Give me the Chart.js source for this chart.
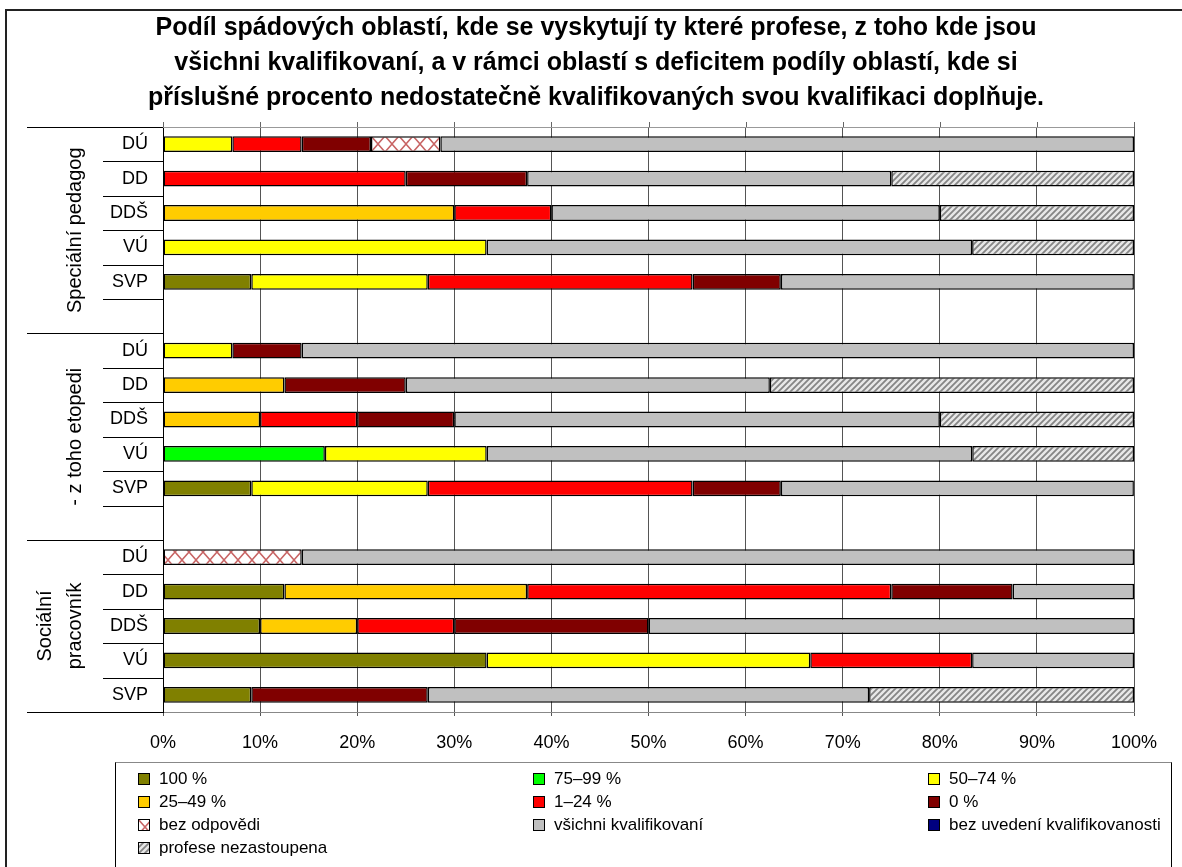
<!DOCTYPE html>
<html lang="cs">
<head>
<meta charset="UTF-8">
<title>Podíl spádových oblastí</title>
<script src="https://cdn.jsdelivr.net/npm/chart.js@4.4.0/dist/chart.umd.min.js"></script>
<style>
  body { margin: 0; width: 1182px; height: 867px; overflow: hidden; background: #fff; position: relative; font-family: "Liberation Sans", Arial, sans-serif; }
  #c { position: absolute; left: 0; top: 0; }
  .frame { position: absolute; left: 5px; top: 9px; width: 1300px; height: 1000px; border: 2px solid #222; pointer-events: none; }
  #legend { position: absolute; left: 115px; top: 762px; width: 1055px; height: 200px; border: 1px solid #000; border-top-color: #888; }
  #legend .item { position: absolute; font-size: 17px; color: #000; white-space: nowrap; line-height: 20px; }
  #legend canvas { position: absolute; left: 0; top: 4px; }
  #legend span { position: absolute; left: 21px; top: 0; }
</style>
</head>
<body>
<canvas id="c" width="1182" height="867"></canvas>
<div class="frame"></div>
<div id="legend"></div>
<script>
const titleLines = [
  'Podíl spádových oblastí, kde se vyskytují ty které profese, z toho kde jsou',
  'všichni kvalifikovaní, a v rámci oblastí s deficitem podíly oblastí, kde si',
  'příslušné procento nedostatečně kvalifikovaných svou kvalifikaci doplňuje.'
];

// rows top to bottom, '' = spacer row between groups
const rows = ['DÚ', 'DD', 'DDŠ', 'VÚ', 'SVP', '',
              'DÚ', 'DD', 'DDŠ', 'VÚ', 'SVP', '',
              'DÚ', 'DD', 'DDŠ', 'VÚ', 'SVP'];
const groups = [['Speciální pedagog'], ['- z toho etopedi'], ['Sociální', 'pracovník']];
const groupStarts = [0, 6, 12, 17];

const seriesNames = ['100 %', '75–99 %', '50–74 %', '25–49 %', '1–24 %', '0 %',
                     'bez odpovědi', 'všichni kvalifikovaní', 'bez uvedení kvalifikovanosti', 'profese nezastoupena'];

const s100      = [0, 0, 0, 0, 9.09, 0,   0, 0, 0, 0, 9.09, 0,       0, 12.5, 10, 33.33, 9.09];
const s75       = [0, 0, 0, 0, 0, 0,      0, 0, 0, 16.67, 0, 0,      0, 0, 0, 0, 0];
const s50       = [7.14, 0, 0, 33.33, 18.18, 0,  7.14, 0, 0, 16.67, 18.18, 0,  0, 0, 0, 33.33, 0];
const s25       = [0, 0, 30, 0, 0, 0,     0, 12.5, 10, 0, 0, 0,      0, 25, 10, 0, 0];
const s1        = [7.14, 25, 10, 0, 27.27, 0,  0, 0, 10, 0, 27.27, 0,  0, 37.5, 10, 16.67, 0];
const s0        = [7.14, 12.5, 0, 0, 9.09, 0,  7.14, 12.5, 10, 0, 9.09, 0,  0, 12.5, 20, 0, 18.18];
const sNoAnswer = [7.14, 0, 0, 0, 0, 0,   0, 0, 0, 0, 0, 0,          14.29, 0, 0, 0, 0];
const sAllQual  = [71.44, 37.5, 40, 50, 36.36, 0,  85.72, 37.5, 50, 50, 36.36, 0,  85.71, 12.5, 50, 16.67, 45.45];
const sNoInfo   = [0, 0, 0, 0, 0, 0,      0, 0, 0, 0, 0, 0,          0, 0, 0, 0, 0];
const sAbsent   = [0, 25, 20, 16.67, 0, 0,  0, 37.5, 20, 16.66, 0, 0,  0, 0, 0, 0, 27.28];

const seriesData = [s100, s75, s50, s25, s1, s0, sNoAnswer, sAllQual, sNoInfo, sAbsent];

function crossPattern() {
  const c = document.createElement('canvas');
  c.width = 14; c.height = 16;
  const g = c.getContext('2d');
  g.fillStyle = '#fff';
  g.fillRect(0, 0, 14, 16);
  g.strokeStyle = '#c86464';
  g.lineWidth = 1.5;
  g.beginPath();
  g.moveTo(0, 0); g.lineTo(14, 16);
  g.moveTo(14, 0); g.lineTo(0, 16);
  g.stroke();
  return g.createPattern(c, 'repeat');
}

function hatchPattern() {
  const c = document.createElement('canvas');
  c.width = 6; c.height = 6;
  const g = c.getContext('2d');
  g.fillStyle = '#e8e8e8';
  g.fillRect(0, 0, 6, 6);
  g.strokeStyle = '#858585';
  g.lineWidth = 1.8;
  g.beginPath();
  g.moveTo(0, 6); g.lineTo(6, 0);
  g.moveTo(-1, 1); g.lineTo(1, -1);
  g.moveTo(5, 7); g.lineTo(7, 5);
  g.stroke();
  return g.createPattern(c, 'repeat');
}

const fills = ['#808000', '#00ff00', '#ffff00', '#ffcc00', '#ff0000', '#800000',
               crossPattern(), '#c0c0c0', '#000080', hatchPattern()];

const FONT = '"Liberation Sans", Arial, sans-serif';

const datasets = seriesNames.map((name, i) => ({
  label: name,
  data: seriesData[i].map(v => v || null),
  backgroundColor: fills[i],
  borderColor: '#000',
  borderWidth: 1.5,
  borderSkipped: false,
  categoryPercentage: 1,
  barPercentage: 0.46
}));

// category axis: separators and rotated group names
const categoryAxis = {
  id: 'categoryAxis',
  afterDraw(chart) {
    const g = chart.ctx, y = chart.scales.y, x = chart.scales.x, area = chart.chartArea;
    g.save();
    // top tick marks + plot frame
    g.strokeStyle = '#666';
    g.lineWidth = 1;
    x.ticks.forEach(t => {
      const px = Math.round(x.getPixelForValue(t.value)) + 0.5;
      g.beginPath(); g.moveTo(px, area.top - 5); g.lineTo(px, area.top); g.stroke();
    });
    g.strokeStyle = '#999';
    g.beginPath(); g.moveTo(area.left, area.top + 0.5); g.lineTo(area.right, area.top + 0.5); g.stroke();

    g.strokeStyle = '#000';
    for (let i = 0; i <= rows.length; i++) {
      const py = Math.round(y.getPixelForValue(i - 0.5)) + 0.5;
      const x0 = groupStarts.includes(i) ? 27 : 103;
      g.beginPath(); g.moveTo(x0, py); g.lineTo(area.left, py); g.stroke();
    }

    g.fillStyle = '#000';
    g.font = '20px ' + FONT;
    g.textAlign = 'center';
    g.textBaseline = 'middle';
    groups.forEach((lines, k) => {
      const y0 = y.getPixelForValue(groupStarts[k] - 0.5);
      const y1 = y.getPixelForValue(groupStarts[k + 1] - 0.5);
      const cy = (y0 + y1) / 2;
      lines.forEach((txt, j) => {
        const cx = 75 - (lines.length - 1 - j) * 30;
        g.save();
        g.translate(cx, cy);
        g.rotate(-Math.PI / 2);
        g.fillText(txt, 0, 0);
        g.restore();
      });
    });
    g.restore();
  }
};

const chart = new Chart(document.getElementById('c'), {
  type: 'bar',
  data: { labels: rows, datasets: datasets },
  options: {
    indexAxis: 'y',
    responsive: false,
    animation: false,
    devicePixelRatio: 1,
    layout: { padding: { left: 10, right: 0, top: 0, bottom: 0 } },
    plugins: {
      legend: { display: false },
      tooltip: { enabled: false },
      title: {
        display: true,
        text: titleLines,
        color: '#000',
        font: { family: FONT, size: 25, weight: 'bold', lineHeight: 1.4 },
        padding: { top: 11, bottom: 11 }
      }
    },
    scales: {
      x: {
        stacked: true,
        min: 0,
        max: 100,
        ticks: { stepSize: 10, callback: v => v + '%', color: '#000', font: { family: FONT, size: 18 }, padding: 16 },
        grid: { color: '#555', tickLength: 4 },
        border: { color: '#888' },
        afterFit: s => { s.height = 155; }
      },
      y: {
        stacked: true,
        ticks: { color: '#000', font: { family: FONT, size: 18 }, padding: 7, autoSkip: false },
        grid: { display: false },
        border: { color: '#000' },
        afterFit: s => { s.width = 153; }
      },
      // empty right-hand margin so the title centres like the original
      yRight: {
        type: 'category',
        position: 'right',
        ticks: { display: false },
        grid: { display: false },
        border: { display: false },
        afterFit: s => { s.width = 48; }
      }
    }
  },
  plugins: [categoryAxis]
});

// legend in three columns, built from the chart's datasets
const legendBox = document.getElementById('legend');
const colX = [22, 417, 812];
chart.data.datasets.forEach((ds, i) => {
  const item = document.createElement('div');
  item.className = 'item';
  item.style.left = colX[i % 3] + 'px';
  item.style.top = (6 + Math.floor(i / 3) * 23) + 'px';
  const sw = document.createElement('canvas');
  sw.width = 12; sw.height = 12;
  const g = sw.getContext('2d');
  g.fillStyle = ds.backgroundColor;
  g.fillRect(0, 0, 12, 12);
  g.strokeStyle = '#000';
  g.lineWidth = 1;
  g.strokeRect(0.5, 0.5, 11, 11);
  const label = document.createElement('span');
  label.textContent = ds.label;
  item.appendChild(sw);
  item.appendChild(label);
  legendBox.appendChild(item);
});
</script>
</body>
</html>
